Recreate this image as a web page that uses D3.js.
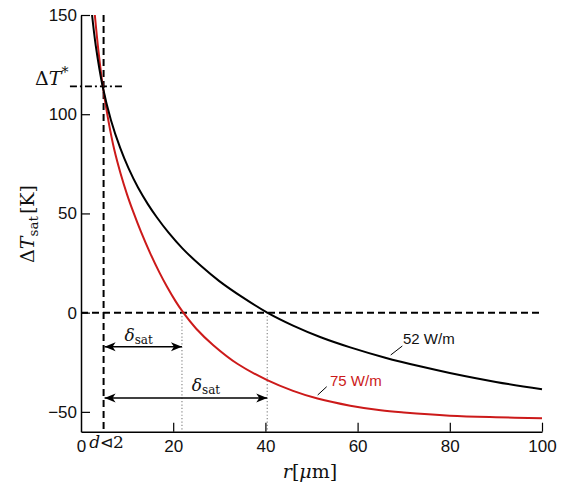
<!DOCTYPE html>
<html>
<head>
<meta charset="utf-8">
<script src="https://cdn.jsdelivr.net/npm/d3@7"></script>
<style>
  html, body { margin: 0; padding: 0; background: #fff; }
  svg { display: block; }
  .tick text { font-family: "Liberation Sans", Arial, sans-serif; font-size: 17px; fill: #111; }
  .math { font-family: "DejaVu Serif", serif; fill: #111; }
</style>
</head>
<body>
<svg id="chart" width="565" height="491"></svg>
<script>
// ---- data ----
const rTicks = [0, 20, 40, 60, 80, 100];
const dTTicks = [-50, 0, 50, 100, 150];
const tickLabels = ["\u221250", "0", "50", "100", "150"];

// 52 W/m curve (black)
const r52  = [2.4, 3.2, 4.7, 6.5, 8.5, 10.3, 12.4, 14.5, 16.4, 19, 22, 26, 30, 35, 40.4, 46, 52, 58.4, 66, 74, 80, 90, 100];
const dT52 = [150, 134.6, 114, 97, 83, 72.8, 62.9, 54.7, 48.2, 40.3, 32.4, 23.6, 15.9, 7.8, 0, -6.55, -12.4, -17.5, -22.7, -27.3, -30.4, -34.9, -38.6];

// 75 W/m curve (red)
const r75  = [3.0, 3.8, 4.7, 6, 7.2, 8.6, 10, 11.3, 13, 15, 17, 18.6, 20.5, 22, 25, 28.7, 34, 40.4, 46, 51.3, 58.4, 65, 70, 80, 90, 100];
const dT75 = [150, 131.5, 114.5, 96, 82.3, 70, 59.5, 51, 40.8, 30, 20.3, 13.3, 5.8, 0.6, -8.1, -16.4, -25.9, -34, -39.4, -43.3, -46.9, -49.2, -50.3, -51.9, -52.7, -53.2];

const rHalf = 4.9;      // d/2
const dTStar = 114;     // ΔT*
const rSat75 = 21.9;    // zero crossing red
const rSat52 = 40.4;    // zero crossing black
const arrowY1 = -17.2, arrowY2 = -43;

// ---- scales ----
const x = d3.scaleLinear().domain([0, 100]).range([81, 542]);
const y = d3.scaleLinear().domain([-60, 150]).range([431.7, 15]);

const svg = d3.select("#chart");
svg.append("rect").attr("width", 565).attr("height", 491).attr("fill", "#fff");

const defs = svg.append("defs");
defs.append("marker").attr("id", "ah")
  .attr("viewBox", "-12 -6 13 12").attr("refX", 0).attr("refY", 0)
  .attr("markerWidth", 13).attr("markerHeight", 12)
  .attr("markerUnits", "userSpaceOnUse").attr("orient", "auto-start-reverse")
  .append("path").attr("d", "M0,0 L-11,-4.5 L-8,0 L-11,4.5 Z").attr("fill", "#000");

// ---- reference lines ----
svg.append("line")
  .attr("x1", x(rHalf)).attr("x2", x(rHalf)).attr("y1", y(150)).attr("y2", y(-60))
  .attr("stroke", "#000").attr("stroke-width", 2).attr("stroke-dasharray", "7,4");
svg.append("line")
  .attr("x1", x(0)).attr("x2", x(100)).attr("y1", y(0)).attr("y2", y(0))
  .attr("stroke", "#000").attr("stroke-width", 2).attr("stroke-dasharray", "7,4");
svg.append("line")
  .attr("x1", x(-2.4)).attr("x2", x(9.5)).attr("y1", y(dTStar)).attr("y2", y(dTStar))
  .attr("stroke", "#000").attr("stroke-width", 1.8).attr("stroke-dasharray", "7,3,2,3");

[rSat75, rSat52].forEach(rv => {
  svg.append("line")
    .attr("x1", x(rv)).attr("x2", x(rv)).attr("y1", y(0)).attr("y2", y(-60))
    .attr("stroke", "#8a8a8a").attr("stroke-width", 1.2).attr("stroke-dasharray", "1.2,2.2");
});

// ---- curves ----
const line = d3.line().x(d => x(d[0])).y(d => y(d[1])).curve(d3.curveCatmullRom.alpha(0.5));
svg.append("path").datum(r75.map((r, i) => [r, dT75[i]]))
  .attr("d", line).attr("fill", "none").attr("stroke", "#cc1a1a").attr("stroke-width", 2);
svg.append("path").datum(r52.map((r, i) => [r, dT52[i]]))
  .attr("d", line).attr("fill", "none").attr("stroke", "#000").attr("stroke-width", 2);

// ---- axes ----
const yAxis = d3.axisLeft(y).tickValues(dTTicks).tickFormat((d, i) => tickLabels[i])
  .tickSizeInner(-9).tickSizeOuter(0).tickPadding(4);
const gy = svg.append("g").attr("transform", `translate(${x(0)},0)`).call(yAxis);
const xAxis = d3.axisBottom(x).tickValues(rTicks).tickFormat(d3.format("d"))
  .tickSizeInner(-9).tickSizeOuter(0).tickPadding(8);
const gx = svg.append("g").attr("transform", `translate(0,${y(-60)})`).call(xAxis);
[gx, gy].forEach(g => {
  g.select(".domain").attr("stroke", "#000").attr("stroke-width", 1.5);
  g.selectAll(".tick line").attr("stroke", "#000").attr("stroke-width", 1.2);
});
gx.selectAll(".tick").filter(d => d === 0).select("line").remove();

// ---- arrows ----
[[arrowY1, rSat75], [arrowY2, rSat52]].forEach(([yv, rEnd]) => {
  svg.append("line")
    .attr("x1", x(rHalf) + 1).attr("x2", x(rEnd)).attr("y1", y(yv)).attr("y2", y(yv))
    .attr("stroke", "#000").attr("stroke-width", 1.4)
    .attr("marker-start", "url(#ah)").attr("marker-end", "url(#ah)");
});

// δsat labels
function deltaSat(cx, baseY) {
  const t = svg.append("text").attr("class", "math").attr("x", cx).attr("y", baseY)
    .attr("text-anchor", "middle").attr("font-size", 17);
  t.append("tspan").attr("font-style", "italic").text("\u03B4");
  t.append("tspan").attr("font-size", 12).attr("dy", 3).text("sat");
}
deltaSat(x(12.5), y(arrowY1) - 6);
deltaSat(x(27.1), y(arrowY2) - 7);

// ΔT* label
const ts = svg.append("text").attr("class", "math").attr("x", 35).attr("y", 85).attr("font-size", 19);
ts.append("tspan").text("\u0394");
ts.append("tspan").attr("font-style", "italic").text("T");
ts.append("tspan").attr("font-size", 14).attr("dy", -8).text("*");

// d/2 label
const dl = svg.append("text").attr("class", "math").attr("x", x(rHalf) + 3).attr("y", 448)
  .attr("text-anchor", "middle").attr("font-size", 17);
dl.append("tspan").attr("font-style", "italic").text("d");
dl.append("tspan").attr("font-size", 16).text("\u22B2");
dl.append("tspan").text("2");

// curve labels
svg.append("line").attr("x1", 390.7).attr("y1", 355).attr("x2", 402.3).attr("y2", 346)
  .attr("stroke", "#000").attr("stroke-width", 1);
svg.append("text").attr("x", 403).attr("y", 344)
  .attr("font-family", "Liberation Sans, Arial, sans-serif").attr("font-size", 15).attr("fill", "#111")
  .text("52 W/m");
svg.append("line").attr("x1", 317.7).attr("y1", 395).attr("x2", 326.7).attr("y2", 386.7)
  .attr("stroke", "#000").attr("stroke-width", 1);
svg.append("text").attr("x", 330).attr("y", 386)
  .attr("font-family", "Liberation Sans, Arial, sans-serif").attr("font-size", 15).attr("fill", "#cc1a1a")
  .text("75 W/m");

// axis titles
const yt = svg.append("text").attr("class", "math").attr("font-size", 19)
  .attr("text-anchor", "middle").attr("transform", "translate(34,224) rotate(-90)");
yt.append("tspan").text("\u0394");
yt.append("tspan").attr("font-style", "italic").text("T");
yt.append("tspan").attr("font-size", 13.5).attr("dy", 4).text("sat");
yt.append("tspan").attr("dy", -4).attr("dx", 2).text("[K]");

const xt = svg.append("text").attr("class", "math").attr("font-size", 19)
  .attr("text-anchor", "middle").attr("x", 310).attr("y", 478);
xt.append("tspan").attr("font-style", "italic").text("r");
xt.append("tspan").text("[");
xt.append("tspan").attr("font-style", "italic").text("\u03BC");
xt.append("tspan").text("m]");
</script>
</body>
</html>
